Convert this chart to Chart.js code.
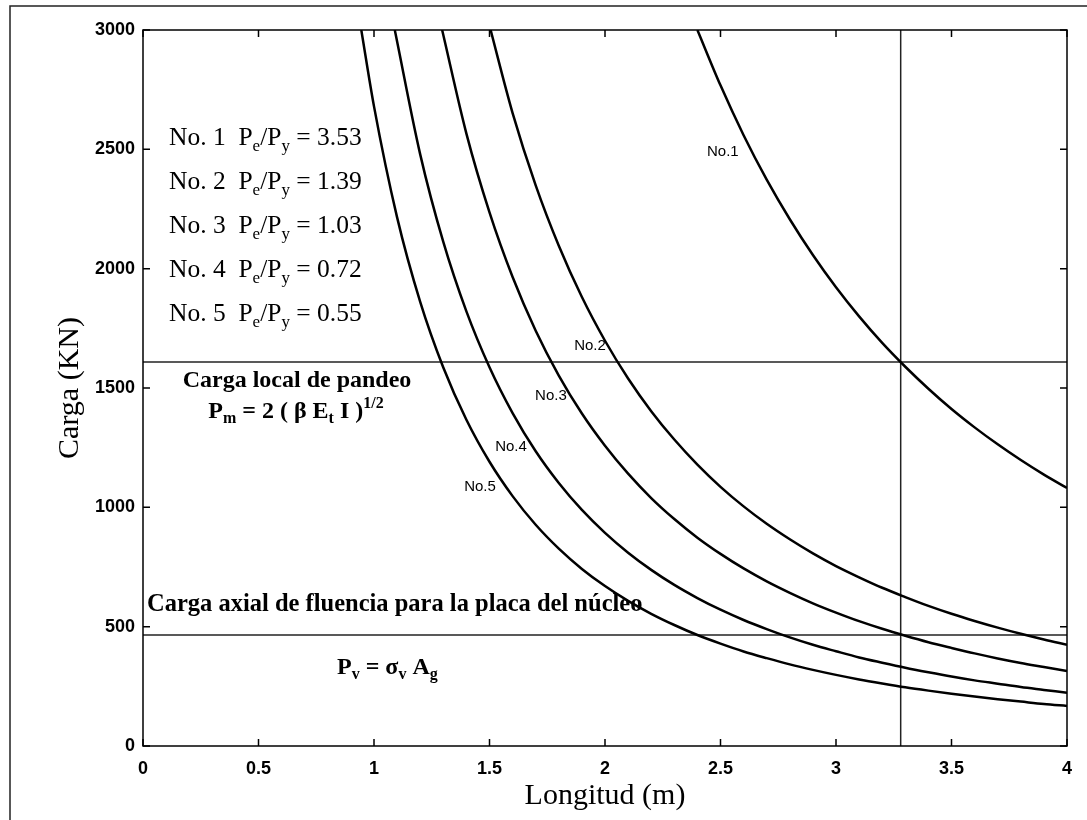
<!DOCTYPE html>
<html>
<head>
<meta charset="utf-8">
<script src="https://cdn.jsdelivr.net/npm/chart.js@4.4.1/dist/chart.umd.min.js"></script>
<style>
  html, body { margin: 0; padding: 0; background: #fff; }
</style>
</head>
<body>
<canvas id="cargaChart" width="1087" height="820"></canvas>
<script>
// longitud (m) / carga (KN)
const lengthsNo1 = [2.4, 2.5, 2.6, 2.7, 2.8, 2.9, 3.0, 3.1, 3.2, 3.3, 3.4, 3.5, 3.6, 3.7, 3.8, 3.9, 4.0];
const loadsNo1 = [3000, 2768, 2559, 2373, 2207, 2057, 1922, 1800, 1689, 1589, 1497, 1412, 1335, 1264, 1198, 1137, 1081];

const lengthsNo2 = [1.5, 1.6, 1.7, 1.8, 1.9, 2.0, 2.1, 2.2, 2.3, 2.4, 2.5, 2.6, 2.7, 2.8, 2.9, 3.0, 3.1, 3.2, 3.3, 3.4, 3.5, 3.6, 3.7, 3.8, 3.9, 4.0];
const loadsNo2 = [3018, 2652, 2349, 2096, 1881, 1698, 1540, 1403, 1284, 1179, 1086, 1004, 931, 866, 807, 754, 707, 663, 624, 587, 554, 524, 496, 470, 446, 424];

const lengthsNo3 = [1.295, 1.4, 1.5, 1.6, 1.7, 1.8, 1.9, 2.0, 2.1, 2.2, 2.3, 2.4, 2.5, 2.6, 2.7, 2.8, 2.9, 3.0, 3.1, 3.2, 3.3, 3.4, 3.5, 3.6, 3.7, 3.8, 3.9, 4.0];
const loadsNo3 = [3000, 2566, 2236, 1965, 1740, 1552, 1393, 1258, 1141, 1039, 951, 873, 805, 744, 690, 642, 598, 559, 523, 491, 462, 435, 411, 388, 367, 348, 331, 314];

const lengthsNo4 = [1.09, 1.2, 1.3, 1.4, 1.5, 1.6, 1.7, 1.8, 1.9, 2.0, 2.1, 2.2, 2.3, 2.4, 2.5, 2.6, 2.7, 2.8, 2.9, 3.0, 3.1, 3.2, 3.3, 3.4, 3.5, 3.6, 3.7, 3.8, 3.9, 4.0];
const loadsNo4 = [3000, 2479, 2112, 1821, 1587, 1395, 1235, 1102, 989, 893, 810, 738, 675, 620, 571, 528, 490, 455, 424, 397, 371, 349, 328, 309, 291, 275, 261, 247, 235, 223];

const lengthsNo5 = [0.945, 1.0, 1.1, 1.2, 1.3, 1.4, 1.5, 1.6, 1.7, 1.8, 1.9, 2.0, 2.1, 2.2, 2.3, 2.4, 2.5, 2.6, 2.7, 2.8, 2.9, 3.0, 3.1, 3.2, 3.3, 3.4, 3.5, 3.6, 3.7, 3.8, 3.9, 4.0];
const loadsNo5 = [3000, 2680, 2215, 1861, 1586, 1367, 1191, 1047, 927, 827, 742, 670, 608, 554, 507, 465, 429, 396, 368, 342, 319, 298, 279, 262, 246, 232, 219, 207, 196, 186, 176, 168];

const curveNames = ["No.1", "No.2", "No.3", "No.4", "No.5"];
const ratioLabels = ["3.53", "1.39", "1.03", "0.72", "0.55"];
// where each curve name sits (longitud, carga)
const nameLengths = [2.51, 1.935, 1.766, 1.593, 1.459];
const nameLoads = [2489, 1676, 1466, 1252, 1085];

const localBucklingLoad = 1609;
const yieldLoad = 465;
const markedLength = 3.28;

const xMin = 0, xMax = 4, xStep = 0.5;
const yMin = 0, yMax = 3000, yStep = 500;

const toPoints = (xs, ys) => xs.map((x, i) => ({ x: x, y: ys[i] }));

const curves = [
  toPoints(lengthsNo1, loadsNo1),
  toPoints(lengthsNo2, loadsNo2),
  toPoints(lengthsNo3, loadsNo3),
  toPoints(lengthsNo4, loadsNo4),
  toPoints(lengthsNo5, loadsNo5),
];

const SERIF = "'Liberation Serif', 'Times New Roman', serif";
const SANS = "'Liberation Sans', Arial, sans-serif";

// draws text with sub/superscripts; parts = [[text, 'sub'|'sup'|undefined], ...]
function drawRich(ctx, parts, x, y, size, weight, align) {
  const fontFor = (kind) => {
    const s = kind ? Math.round(size * 0.65) : size;
    return weight + " " + s + "px " + SERIF;
  };
  let total = 0;
  parts.forEach(([t, kind]) => {
    ctx.font = fontFor(kind);
    total += ctx.measureText(t).width;
  });
  let cx = align === "center" ? x - total / 2 : x;
  ctx.textAlign = "left";
  ctx.textBaseline = "alphabetic";
  parts.forEach(([t, kind]) => {
    ctx.font = fontFor(kind);
    let dy = 0;
    if (kind === "sub") dy = size * 0.22;
    if (kind === "sup") dy = -size * 0.42;
    ctx.fillText(t, cx, y + dy);
    cx += ctx.measureText(t).width;
  });
}

const framePlugin = {
  id: "framePlugin",
  beforeDraw(chart) {
    const ctx = chart.ctx;
    ctx.save();
    ctx.fillStyle = "#fff";
    ctx.fillRect(0, 0, chart.width, chart.height);
    ctx.strokeStyle = "#222";
    ctx.lineWidth = 1.5;
    ctx.beginPath();
    ctx.moveTo(10, chart.height);
    ctx.lineTo(10, 6);
    ctx.lineTo(chart.width, 6);
    ctx.stroke();
    ctx.restore();
  },
  afterDraw(chart) {
    const ctx = chart.ctx;
    const area = chart.chartArea;
    const xs = chart.scales.x;
    const ys = chart.scales.y;
    ctx.save();
    ctx.strokeStyle = "#000";
    ctx.lineWidth = 1.5;
    ctx.strokeRect(area.left, area.top, area.right - area.left, area.bottom - area.top);

    // inward ticks on all four sides
    const tick = 7;
    ctx.beginPath();
    xs.ticks.forEach((t) => {
      const px = xs.getPixelForValue(t.value);
      ctx.moveTo(px, area.bottom);
      ctx.lineTo(px, area.bottom - tick);
      ctx.moveTo(px, area.top);
      ctx.lineTo(px, area.top + tick);
    });
    ys.ticks.forEach((t) => {
      const py = ys.getPixelForValue(t.value);
      ctx.moveTo(area.left, py);
      ctx.lineTo(area.left + tick, py);
      ctx.moveTo(area.right, py);
      ctx.lineTo(area.right - tick, py);
    });
    ctx.stroke();

    // curve names
    ctx.fillStyle = "#000";
    ctx.font = "15px " + SANS;
    ctx.textAlign = "center";
    ctx.textBaseline = "middle";
    curveNames.forEach((name, i) => {
      ctx.fillText(name, xs.getPixelForValue(nameLengths[i]), ys.getPixelForValue(nameLoads[i]));
    });

    // ratio list
    ratioLabels.forEach((r, i) => {
      drawRich(ctx, [["No. " + (i + 1) + "  P"], ["e", "sub"], ["/P"], ["y", "sub"], [" = " + r]],
        169, 145 + i * 44, 25.5, "normal", "left");
    });

    drawRich(ctx, [["Carga local de pandeo"]], 297, 387, 24, "bold", "center");
    drawRich(ctx, [["P"], ["m", "sub"], [" = 2 ( \u03B2 E"], ["t", "sub"], [" I )"], ["1/2", "sup"]],
      296, 418, 24, "bold", "center");

    drawRich(ctx, [["Carga axial de fluencia para la placa del n\u00FAcleo"]], 147, 611, 24.5, "bold", "left");
    drawRich(ctx, [["P"], ["v", "sub"], [" = \u03C3"], ["v", "sub"], [" A"], ["g", "sub"]],
      337, 674, 24, "bold", "left");
    ctx.restore();
  },
};

const curveDatasets = curves.map((pts, i) => ({
  label: curveNames[i],
  data: pts,
  borderColor: "#000",
  borderWidth: 2.5,
  pointRadius: 0,
  fill: false,
  cubicInterpolationMode: "monotone",
}));

const refLine = (pts) => ({
  data: pts,
  borderColor: "#222",
  borderWidth: 1.5,
  pointRadius: 0,
  fill: false,
  tension: 0,
});

const datasets = curveDatasets.concat([
  refLine([{ x: xMin, y: localBucklingLoad }, { x: xMax, y: localBucklingLoad }]),
  refLine([{ x: xMin, y: yieldLoad }, { x: xMax, y: yieldLoad }]),
  refLine([{ x: markedLength, y: yMin }, { x: markedLength, y: yMax }]),
]);

const plainTick = (value) => String(value);

new Chart(document.getElementById("cargaChart"), {
  type: "line",
  data: { datasets: datasets },
  options: {
    responsive: false,
    devicePixelRatio: 1,
    animation: false,
    layout: { padding: { top: 30, right: 20, left: 0, bottom: 0 } },
    plugins: { legend: { display: false }, tooltip: { enabled: false } },
    scales: {
      x: {
        type: "linear",
        min: xMin,
        max: xMax,
        grid: { display: false, drawTicks: false },
        border: { display: false },
        ticks: { stepSize: xStep, padding: 12, color: "#000", callback: plainTick, font: { family: SANS, size: 18, weight: "bold" } },
        title: {
          display: true,
          text: "Longitud (m)",
          color: "#000",
          font: { family: SERIF, size: 30 },
          padding: { top: 0, bottom: 6 },
        },
        afterFit(scale) { scale.height = 74; },
      },
      y: {
        type: "linear",
        min: yMin,
        max: yMax,
        grid: { display: false, drawTicks: false },
        border: { display: false },
        ticks: { stepSize: yStep, padding: 8, color: "#000", callback: plainTick, font: { family: SANS, size: 18, weight: "bold" } },
        title: {
          display: true,
          text: "Carga (KN)",
          color: "#000",
          font: { family: SERIF, size: 30 },
          padding: { top: 52, bottom: 0 },
        },
        afterFit(scale) { scale.width = 143; },
      },
    },
  },
  plugins: [framePlugin],
});
</script>
</body>
</html>
